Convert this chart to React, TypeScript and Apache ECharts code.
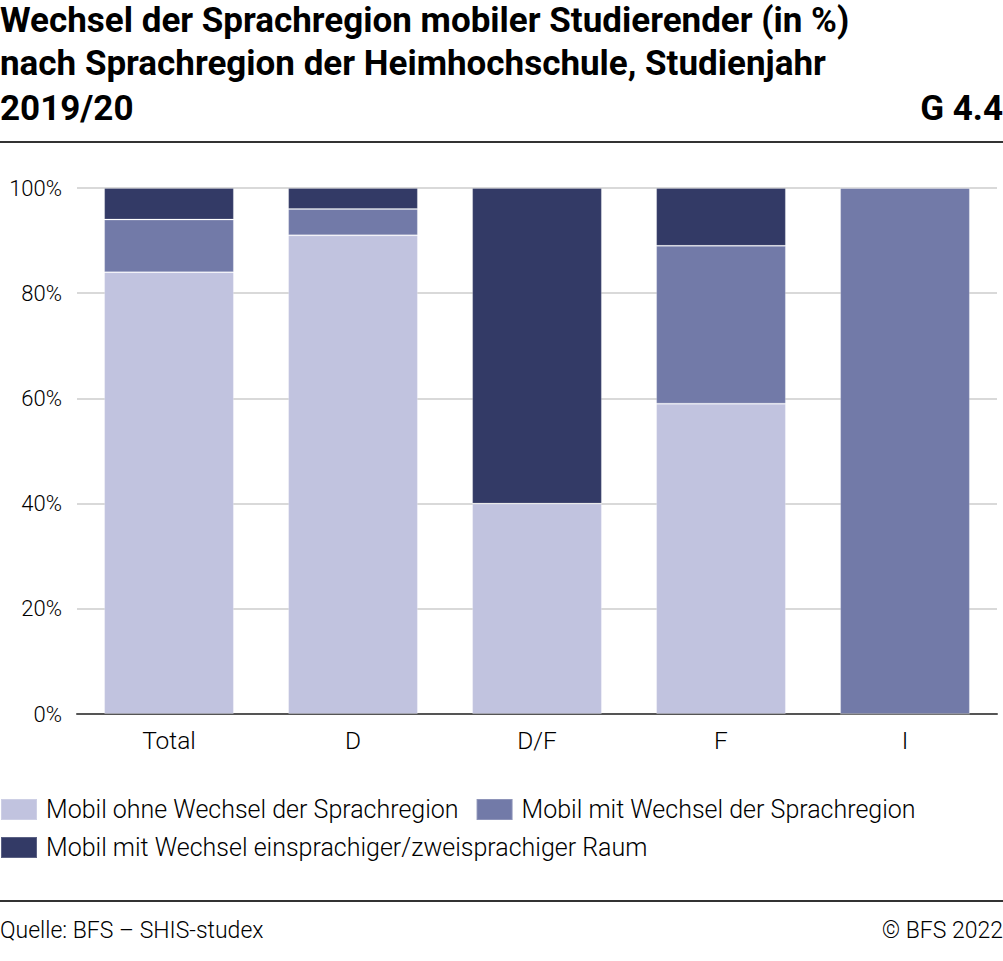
import React, { useEffect, useRef } from "react";
import * as echarts from "echarts";

const categories = ["Total", "D", "D/F", "F", "I"];
const ohneWechsel = [84, 91, 40, 59, 0];
const mitWechsel = [10, 5, 0, 30, 100];
const einZweiSprachig = [6, 4, 60, 11, 0];
const yTicks = [0, 20, 40, 60, 80, 100];

const seriesNames = [
  "Mobil ohne Wechsel der Sprachregion",
  "Mobil mit Wechsel der Sprachregion",
  "Mobil mit Wechsel einsprachiger/zweisprachiger Raum",
];
const colors = ["#c1c3df", "#727aa8", "#333a66"];

const titleLines = [
  "Wechsel der Sprachregion mobiler Studierender (in %)",
  "nach Sprachregion der Heimhochschule, Studienjahr",
  "2019/20",
];
const chartId = "G 4.4";
const sourceText = "Quelle: BFS – SHIS-studex";
const copyrightText = "© BFS 2022";

const FONT = "Roboto, 'Noto Sans', sans-serif";

export default function App() {
  const ref = useRef<HTMLDivElement>(null);
  useEffect(() => {
    if (!ref.current) return;
    const chart = echarts.init(ref.current, undefined, { renderer: "svg" });
    const dataSets = [ohneWechsel, mitWechsel, einZweiSprachig];
    const titleStyle = {
      fontFamily: FONT,
      fontSize: 35,
      fontWeight: "bold",
      lineHeight: 35,
      color: "#000000",
    };
    const titleTops = [3, 46, 91];
    const legendStyle = {
      left: 0,
      padding: 0,
      itemWidth: 36,
      itemHeight: 21,
      itemGap: 17,
      icon: "rect",
      textStyle: {
        fontFamily: FONT,
        fontSize: 25,
        fontWeight: 300,
        color: "#000000",
        padding: [0, 0, 0, 4],
      },
    };
    chart.setOption({
      animation: false,
      backgroundColor: "#ffffff",
      textStyle: { fontFamily: FONT },
      title: [
        ...titleLines.map((t, i) => ({
          text: t,
          left: 0,
          top: titleTops[i],
          padding: 0,
          textStyle: titleStyle,
        })),
        {
          text: chartId,
          right: 0,
          top: titleTops[2],
          padding: 0,
          textStyle: titleStyle,
        },
      ],
      graphic: [
        {
          type: "line",
          shape: { x1: 0, y1: 142, x2: 1003, y2: 142 },
          style: { stroke: "#333333", lineWidth: 2 },
        },
        {
          type: "line",
          shape: { x1: 0, y1: 901, x2: 1003, y2: 901 },
          style: { stroke: "#333333", lineWidth: 2 },
        },
        {
          type: "text",
          x: 0,
          y: 930,
          style: {
            text: sourceText,
            fontFamily: FONT,
            fontSize: 23,
            fontWeight: 300,
            fill: "#000000",
            textVerticalAlign: "middle",
            textAlign: "left",
          },
        },
        {
          type: "text",
          x: 1003,
          y: 930,
          style: {
            text: copyrightText,
            fontFamily: FONT,
            fontSize: 23,
            fontWeight: 300,
            fill: "#000000",
            textVerticalAlign: "middle",
            textAlign: "right",
          },
        },
      ],
      legend: [
        { ...legendStyle, top: 797, data: seriesNames.slice(0, 2) },
        { ...legendStyle, top: 835, data: seriesNames.slice(2) },
      ],
      grid: { left: 77, right: 6, top: 188, bottom: 961 - 714, containLabel: false },
      xAxis: {
        type: "category",
        data: categories,
        axisLine: { lineStyle: { color: "#555555", width: 2 } },
        axisTick: { show: false },
        axisLabel: {
          fontFamily: FONT,
          fontSize: 24.5,
          fontWeight: 300,
          color: "#000000",
          margin: 14,
        },
      },
      yAxis: {
        type: "value",
        min: yTicks[0],
        max: yTicks[yTicks.length - 1],
        interval: 20,
        axisLine: { show: false },
        axisTick: { show: false },
        splitLine: { lineStyle: { color: "#d9d9d9", width: 2 } },
        axisLabel: {
          fontFamily: FONT,
          fontSize: 22,
          fontWeight: 300,
          color: "#000000",
          margin: 15,
          formatter: "{value}%",
        },
      },
      series: seriesNames.map((name, i) => ({
        name,
        type: "bar",
        stack: "total",
        barWidth: "70.5%",
        data: dataSets[i],
        itemStyle: {
          color: colors[i],
          borderColor: "rgba(255,255,255,0.2)",
          borderWidth: 1,
        },
      })),
    });
    return () => chart.dispose();
  }, []);
  return (
    <div
      ref={ref}
      style={{ position: "absolute", left: 0, top: 0, width: 1003, height: 961 }}
    />
  );
}
